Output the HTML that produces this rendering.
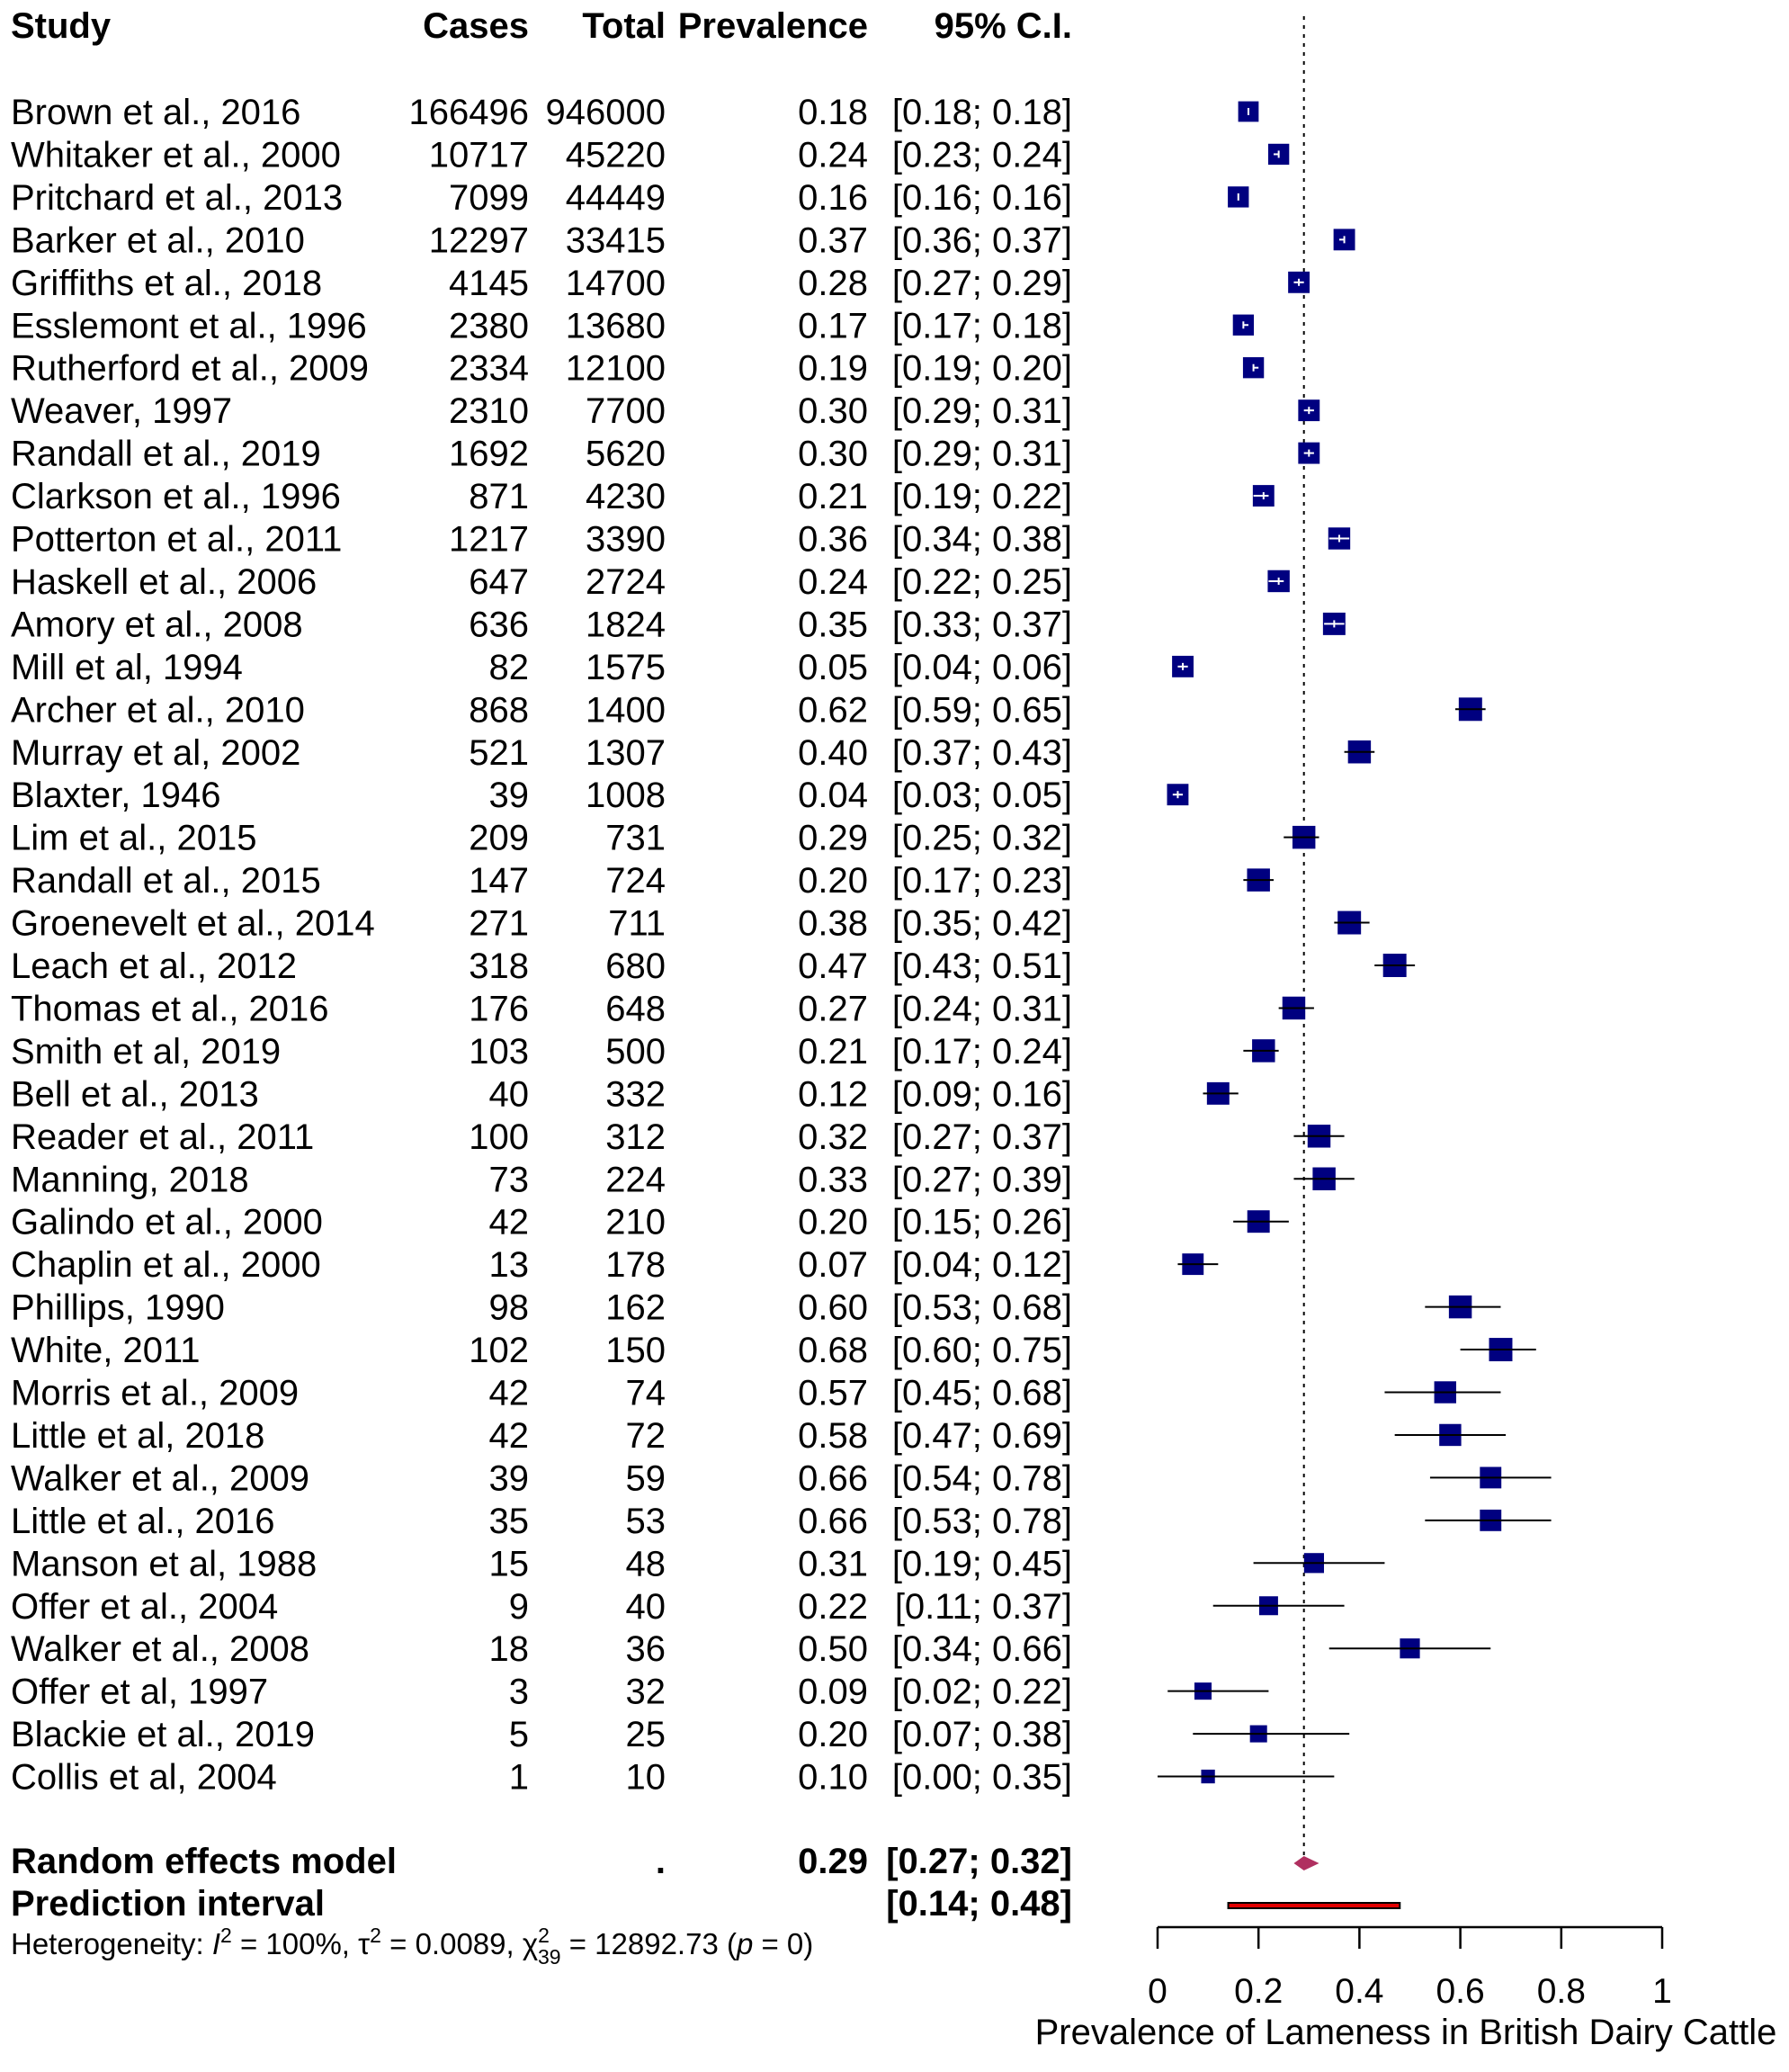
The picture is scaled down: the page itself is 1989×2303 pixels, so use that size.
<!DOCTYPE html>
<html><head><meta charset="utf-8"><style>
body{margin:0;background:#fff}
svg text{font-family:"Liberation Sans",Arial,sans-serif;fill:#000}
</style></head><body>
<svg id="c" width="1989" height="2298" viewBox="0 0 1989 2298" xmlns="http://www.w3.org/2000/svg"></svg>
<script>
const studies=["Brown et al., 2016","Whitaker et al., 2000","Pritchard et al., 2013","Barker et al., 2010","Griffiths et al., 2018","Esslemont et al., 1996","Rutherford et al., 2009","Weaver, 1997","Randall et al., 2019","Clarkson et al., 1996","Potterton et al., 2011","Haskell et al., 2006","Amory et al., 2008","Mill et al, 1994","Archer et al., 2010","Murray et al, 2002","Blaxter, 1946","Lim et al., 2015","Randall et al., 2015","Groenevelt et al., 2014","Leach et al., 2012","Thomas et al., 2016","Smith et al, 2019","Bell et al., 2013","Reader et al., 2011","Manning, 2018","Galindo et al., 2000","Chaplin et al., 2000","Phillips, 1990","White, 2011","Morris et al., 2009","Little et al, 2018","Walker et al., 2009","Little et al., 2016","Manson et al, 1988","Offer et al., 2004","Walker et al., 2008","Offer et al, 1997","Blackie et al., 2019","Collis et al, 2004"];
const cases=[166496,10717,7099,12297,4145,2380,2334,2310,1692,871,1217,647,636,82,868,521,39,209,147,271,318,176,103,40,100,73,42,13,98,102,42,42,39,35,15,9,18,3,5,1];
const totals=[946000,45220,44449,33415,14700,13680,12100,7700,5620,4230,3390,2724,1824,1575,1400,1307,1008,731,724,711,680,648,500,332,312,224,210,178,162,150,74,72,59,53,48,40,36,32,25,10];
const prev=[0.18,0.24,0.16,0.37,0.28,0.17,0.19,0.30,0.30,0.21,0.36,0.24,0.35,0.05,0.62,0.40,0.04,0.29,0.20,0.38,0.47,0.27,0.21,0.12,0.32,0.33,0.20,0.07,0.60,0.68,0.57,0.58,0.66,0.66,0.31,0.22,0.50,0.09,0.20,0.10];
const lower=[0.18,0.23,0.16,0.36,0.27,0.17,0.19,0.29,0.29,0.19,0.34,0.22,0.33,0.04,0.59,0.37,0.03,0.25,0.17,0.35,0.43,0.24,0.17,0.09,0.27,0.27,0.15,0.04,0.53,0.60,0.45,0.47,0.54,0.53,0.19,0.11,0.34,0.02,0.07,0.00];
const upper=[0.18,0.24,0.16,0.37,0.29,0.18,0.20,0.31,0.31,0.22,0.38,0.25,0.37,0.06,0.65,0.43,0.05,0.32,0.23,0.42,0.51,0.31,0.24,0.16,0.37,0.39,0.26,0.12,0.68,0.75,0.68,0.69,0.78,0.78,0.45,0.37,0.66,0.22,0.38,0.35];
const weights=[2.0,2.1,2.1,2.2,2.2,2.1,2.1,2.2,2.2,2.2,2.3,2.3,2.4,2.2,2.6,2.5,2.2,2.5,2.5,2.6,2.6,2.5,2.5,2.4,2.5,2.5,2.4,2.2,2.5,2.6,2.3,2.3,2.2,2.2,1.9,1.7,1.9,1.4,1.4,0.9];
const pooled=[0.29,0.27,0.32];
const predInt=[0.14,0.48];
const ticks=[0,0.2,0.4,0.6,0.8,1];

const svg=document.getElementById('c');const NS='http://www.w3.org/2000/svg';
function el(t,a,txt){const e=document.createElementNS(NS,t);for(const k in a)e.setAttribute(k,a[k]);if(txt!==undefined)e.textContent=txt;svg.appendChild(e);return e;}
const X=v=>1287+v*561;
const Y=i=>124+i*47.45;
const f2=v=>v.toFixed(2);
const FS=40;
let h;
h=el('text',{x:12,y:42,'font-size':FS,'font-weight':'bold'},'Study');

[['Cases',588],['Total',740],['Prevalence',965],['95% C.I.',1192]].forEach(([t,x])=>{
 const e=el('text',{x:x,y:42,'font-size':FS,'font-weight':'bold','text-anchor':'end'},t);
 
 
});
const rl=el('line',{x1:X(pooled[0]),x2:X(pooled[0]),y1:18,y2:2062,stroke:'#000','stroke-width':2,'stroke-dasharray':'4,6'});


studies.forEach((s,i)=>{
 const y=Y(i),b=y+14;
 let e=el('text',{x:12,y:b,'font-size':FS},s);
 
 e=el('text',{x:588,y:b,'font-size':FS,'text-anchor':'end'},String(cases[i]));
 
 e=el('text',{x:740,y:b,'font-size':FS,'text-anchor':'end'},String(totals[i]));
 
 e=el('text',{x:965,y:b,'font-size':FS,'text-anchor':'end'},f2(prev[i]));
 
 e=el('text',{x:1192,y:b,'font-size':FS,'text-anchor':'end'},'['+f2(lower[i])+'; '+f2(upper[i])+']');
 
 const sz=16.1*Math.sqrt(weights[i]);
 e=el('rect',{x:X(prev[i])-sz/2,y:y-sz/2,width:sz,height:sz,fill:'#000080'});
 
 const x1=X(lower[i]),x2=X(upper[i]);
 const inside=(x2-x1)<sz;
 e=el('line',{x1:x1,x2:x2,y1:y,y2:y,stroke:inside?'#fff':'#000','stroke-width':2});
 
 if(inside){e=el('line',{x1:X(prev[i]),x2:X(prev[i]),y1:y-4,y2:y+4,stroke:'#fff','stroke-width':2});
 }
});
let e;
e=el('text',{x:12,y:2082,'font-size':FS,'font-weight':'bold'},'Random effects model');
e=el('text',{x:740,y:2082,'font-size':FS,'font-weight':'bold','text-anchor':'end'},'.');
e=el('text',{x:965,y:2082,'font-size':FS,'font-weight':'bold','text-anchor':'end'},f2(pooled[0]));
e=el('text',{x:1192,y:2082,'font-size':FS,'font-weight':'bold','text-anchor':'end'},'['+f2(pooled[1])+'; '+f2(pooled[2])+']');
e=el('text',{x:12,y:2129,'font-size':FS,'font-weight':'bold'},'Prediction interval');
e=el('text',{x:1192,y:2129,'font-size':FS,'font-weight':'bold','text-anchor':'end'},'['+f2(predInt[0])+'; '+f2(predInt[1])+']');
const dy=2071;
e=el('polygon',{points:`${X(pooled[1])},${dy} ${X(pooled[0])},${dy-8} ${X(pooled[2])},${dy} ${X(pooled[0])},${dy+8}`,fill:'#b03060'});

e=el('rect',{x:X(predInt[0]),y:2115,width:X(predInt[1])-X(predInt[0]),height:6,fill:'#e00000',stroke:'#000','stroke-width':2});

e=el('text',{x:12,y:2172,'font-size':33});

e.innerHTML='Heterogeneity: <tspan font-style="italic">I</tspan><tspan dy="-13" font-size="23">2</tspan><tspan dy="13"> = 100%, τ</tspan><tspan dy="-13" font-size="23">2</tspan><tspan dy="13"> = 0.0089, χ</tspan><tspan dy="-13" font-size="23">2</tspan><tspan dx="-13" dy="24" font-size="23">39</tspan><tspan dy="-11"> = 12892.73 (</tspan><tspan font-style="italic">p</tspan><tspan> = 0)</tspan>';
e=el('line',{x1:X(0),x2:X(1),y1:2142,y2:2142,stroke:'#000','stroke-width':2.5});

ticks.forEach(t=>{
 let k=el('line',{x1:X(t),x2:X(t),y1:2142,y2:2166,stroke:'#000','stroke-width':2.5});
 
 k=el('text',{x:X(t),y:2226,'font-size':39,'text-anchor':'middle'},String(t));
 
});
e=el('text',{x:1563,y:2272,'font-size':40,'text-anchor':'middle'},'Prevalence of Lameness in British Dairy Cattle');

</script>
</body></html>
